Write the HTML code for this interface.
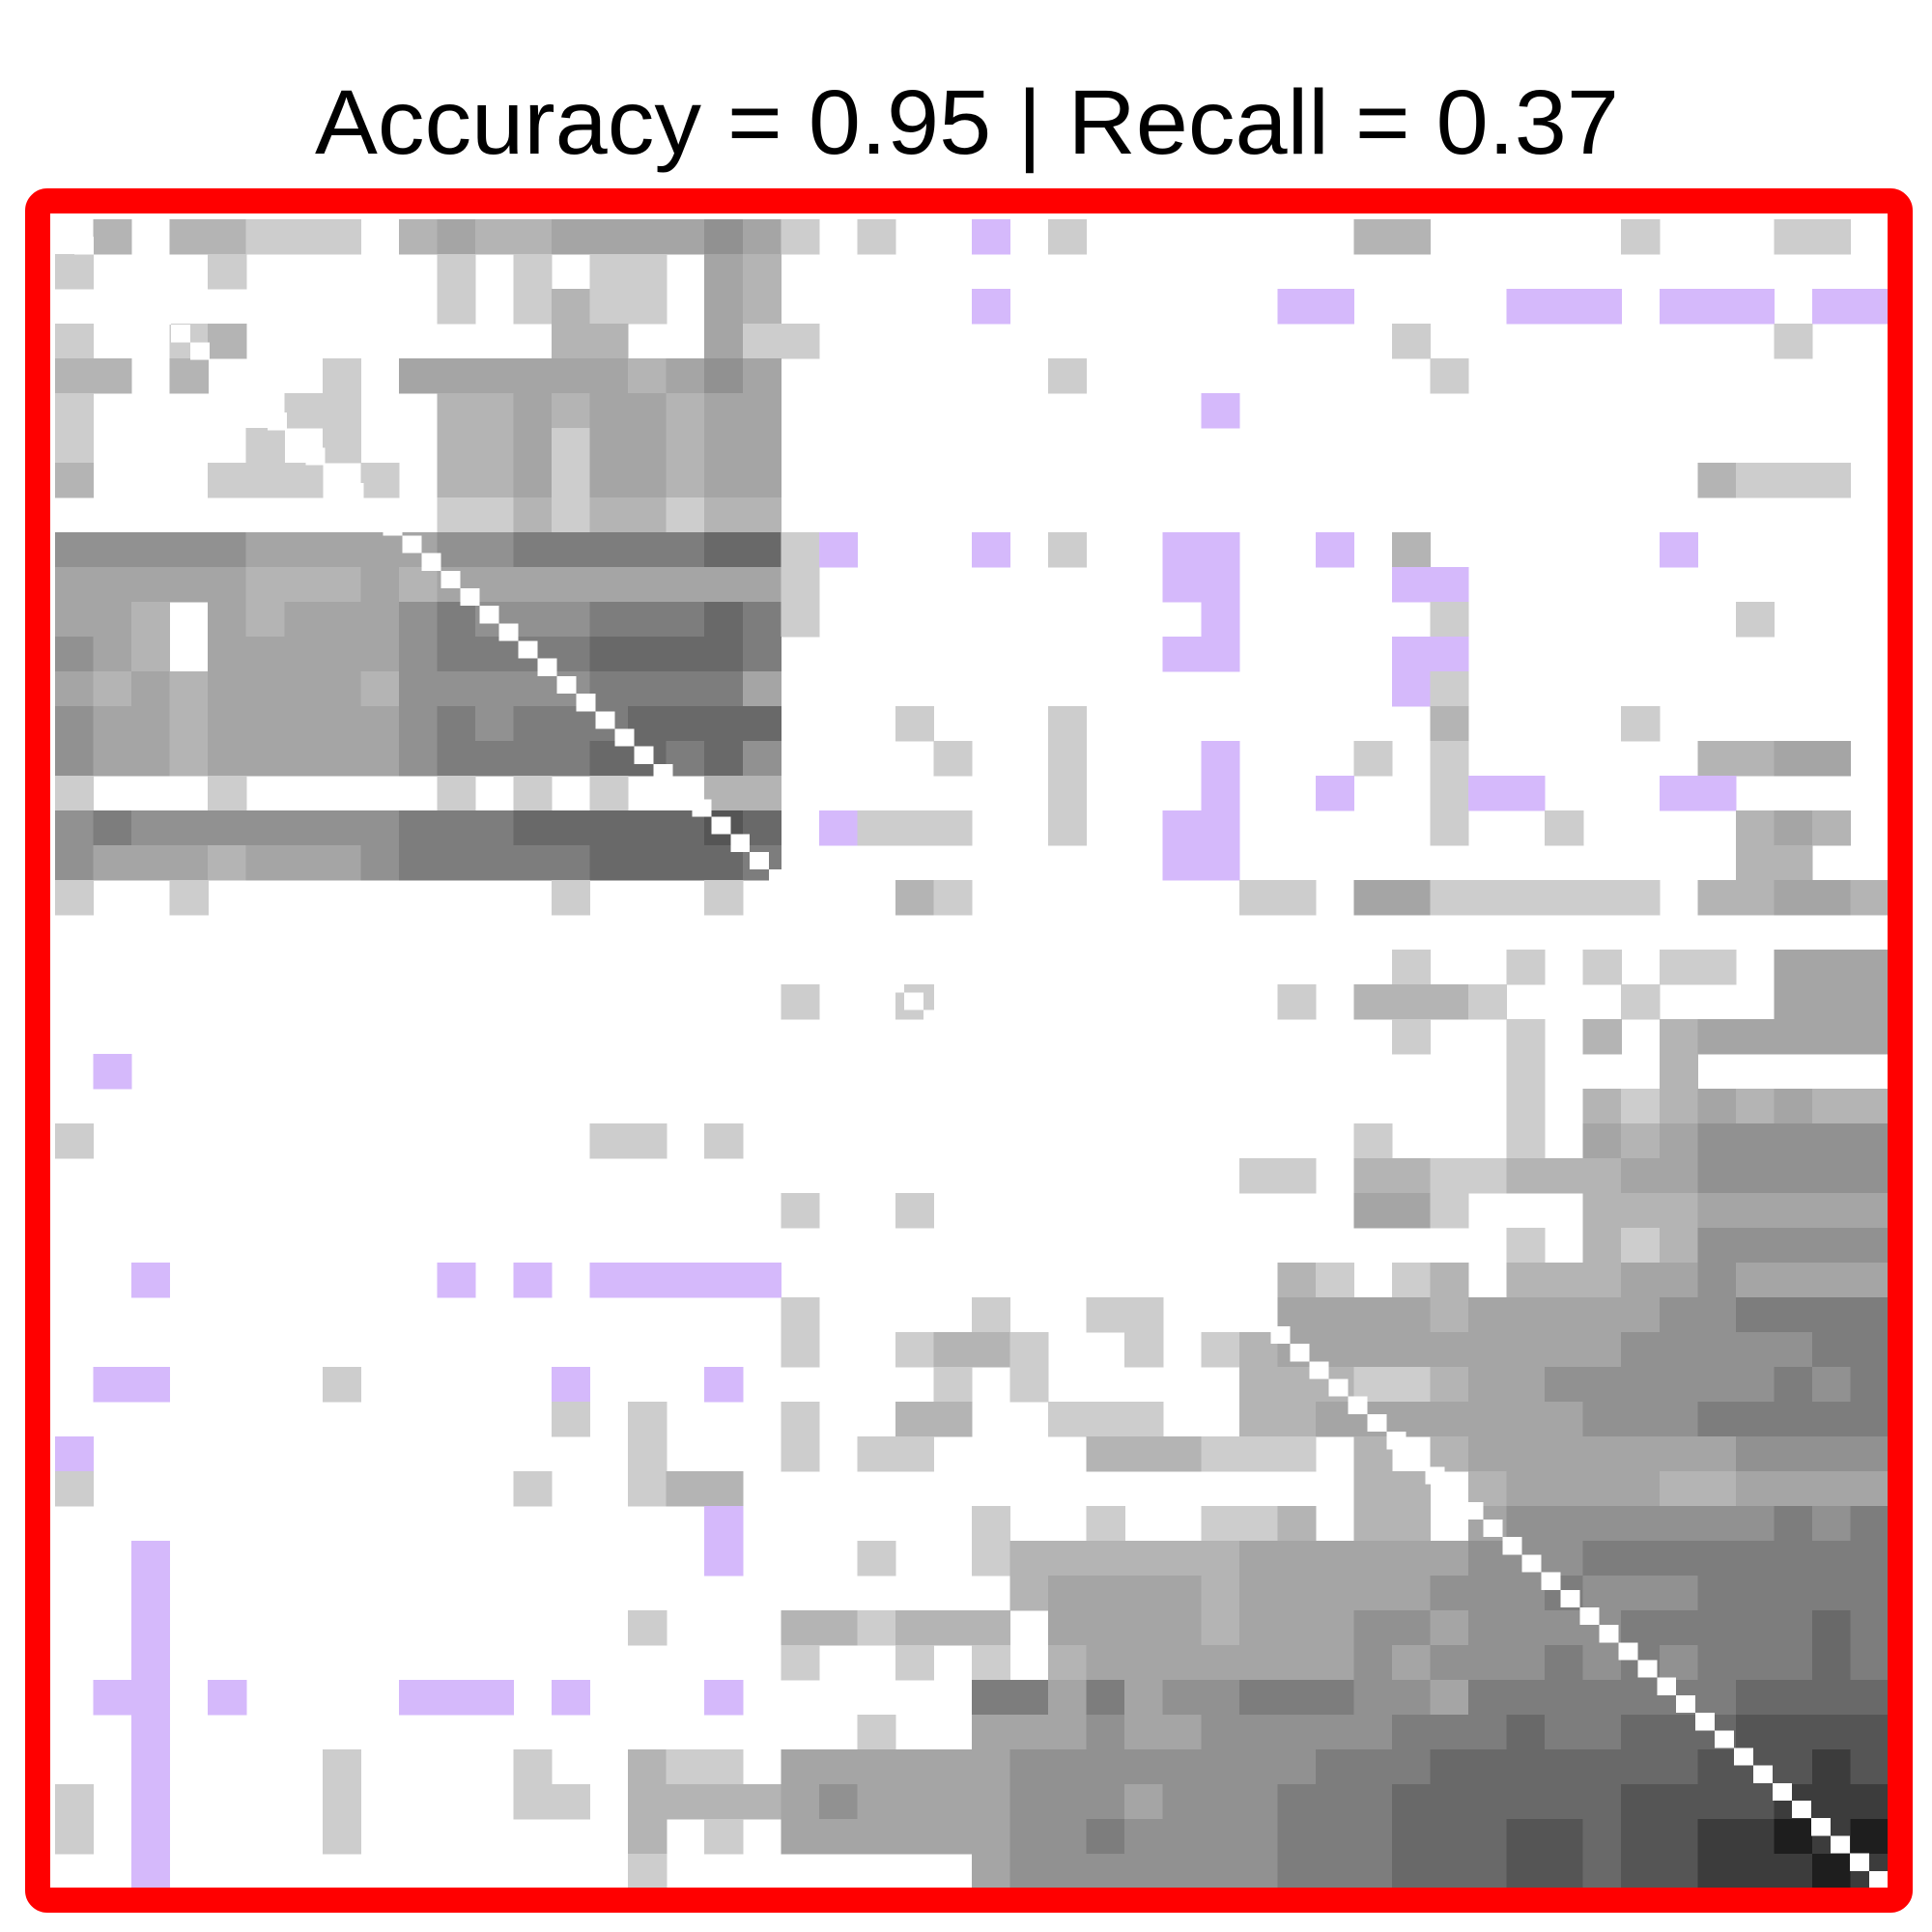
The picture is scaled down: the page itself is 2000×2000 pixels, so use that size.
<!DOCTYPE html>
<html>
<head>
<meta charset="utf-8">
<style>
  html, body { margin: 0; padding: 0; background: #ffffff; }
  body { width: 2000px; height: 2000px; overflow: hidden; }
  svg { display: block; }
</style>
</head>
<body>
<svg id="chart" width="2000" height="2000" viewBox="0 0 2000 2000" xmlns="http://www.w3.org/2000/svg">
  <rect x="0" y="0" width="2000" height="2000" fill="#ffffff"/>
  <text x="1001" y="159" text-anchor="middle" font-family="Liberation Sans, Arial, sans-serif" font-size="95" textLength="1350" lengthAdjust="spacingAndGlyphs" fill="#000">Accuracy = 0.95 | Recall = 0.37</text>
  <defs>
    <clipPath id="plotClip"><rect x="52" y="221" width="1902" height="1733"/></clipPath>
  </defs>
  <g id="cells" clip-path="url(#plotClip)" shape-rendering="crispEdges"></g>
  <rect x="39" y="208" width="1928" height="1759" rx="10" ry="10" fill="none" stroke="#ff0000" stroke-width="26"/>
</svg>
<script>
// Coarse matrix (48x48, each cell = 2x2 original cells). '.' empty, 1-9 grey darkness, 'p' purple.
const B = "........";
const heatRows = [
  ".2.22111"+".2322333"+"3431.1.."+"p.1....."+"..22...."+".1...11.",
  "1...1..."+"..1.1.11"+".32....."+B+B+B,
  B+"..1.1211"+".32....."+"p......."+"pp....pp"+"p.ppp.pp",
  "1..12..."+".....22."+".311...."+B+"...1...."+".....1..",
  "22.2...1"+".3333332"+"343....."+"..1....."+"....1..."+B,
  "1.....11"+"..223233"+"233....."+"......p."+B+B,
  "1....1.1"+"..223133"+"233....."+B+B+B,
  "2...111."+"1.223133"+"233....."+B+B+"...2111.",
  B+"..112122"+"122....."+B+B+B,
  "44444333"+"33445555"+"5661p..."+"p.1..pp."+".p.2...."+"..p.....",
  "33333222"+"32333333"+"3331...."+".....pp."+"...pp..."+B,
  "332.3233"+"34544455"+"5651...."+"......p."+"....1..."+"....1...",
  "432.3333"+"34555566"+"665....."+".....pp."+"...pp..."+B,
  "32323333"+"24444455"+"553....."+B+"...p1..."+B,
  "43323333"+"34545556"+"666...1."+"..1....."+"....2..."+".1......",
  "43323333"+"34555566"+"564....1"+"..1...p."+"..1.1..."+"...2233.",
  "1...1..."+"..1.1.1."+".22....."+"..1...p."+".p..1pp."+"..pp....",
  "45444444"+"45556666"+"676.p111"+"..1..pp."+"....1..1"+"....232.",
  "43332333"+"45555566"+"665....."+".....pp."+B+"....22..",
  "1..1...."+".....1.."+".1....21"+".......1"+"1.331111"+"11.22332",
  B+B+B+B+B+B,
  B+B+B+B+"...1..1."+"1.11.333",
  B+B+"...1..1."+B+"1.2221.."+".1...333",
  B+B+B+B+"...1..1."+"2.233333",
  ".p......"+B+B+B+"......1."+"..2.....",
  B+B+B+B+"......1."+"21232322",
  "1......."+"......11"+".1......"+B+"..1...1."+"32344444",
  B+B+B+".......1"+"1.221122"+"23344444",
  B+B+"...1..1."+B+"..331..."+"22233333",
  B+B+B+B+"......1."+"21244444",
  "..p....."+"..p.p.pp"+"ppp....."+B+"21.12.22"+"23343333",
  B+B+"...1...."+"1..11..."+"33332333"+"33445555",
  B+B+"...1..12"+"21..1.12"+"33333333"+"34444455",
  ".pp....1"+".....p.."+".p.....1"+".1.....2"+"22112334"+"44444545",
  B+".....1.1"+"...1..22"+"..111..2"+"23333333"+"44455555",
  "p......."+".......1"+"...1.11."+"...22211"+"1.2.2333"+"33334444",
  "1......."+"....1..1"+"22......"+B+"..22.233"+"33223333",
  B+B+".p......"+"1..1..11"+"2.22.344"+"44444545",
  "..p....."+B+".p...1.."+"12222223"+"33333444"+"55555555",
  "..p....."+B+B+".2333323"+"33334445"+"44455555",
  "..p....."+".......1"+"...22122"+"2.333323"+"33443444"+"45555565",
  "..p....."+B+"...1..1."+"1.233333"+"33434445"+"45455565",
  ".pp.p..."+".ppp.p.."+".p......"+"55353445"+"55443555"+"55556666",
  "..p....."+B+".....1.."+"33343344"+"44455565"+"56667777",
  "..p....1"+"....1..2"+"11.33333"+"34444444"+"45556666"+"66677787",
  "1.p....1"+"....11.2"+"22234333"+"34443444"+"55566666"+"67777888",
  "1.p....1"+".......2"+".1.33333"+"34454444"+"55566677"+"67788989",
  "..p....."+".......1"+B+"34444444"+"55566677"+"67788898"
];
const greyLevels = [255, 205, 180, 165, 145, 125, 105, 85, 60, 30];
const purpleColor = "#d5b9fb";
const fineN = 95;

(function draw() {
  const svgNS = "http://www.w3.org/2000/svg";
  const g = document.getElementById("cells");
  const x0 = 57, y0 = 227, W = 1898, H = 1728;
  const coarseN = heatRows.length;
  const xScale = c => x0 + c * W / coarseN;
  const yScale = r => y0 + r * H / coarseN;
  const cw = W / coarseN, ch = H / coarseN;
  for (let r = 0; r < coarseN; r++) {
    const row = heatRows[r];
    for (let c = 0; c < Math.min(row.length, coarseN); c++) {
      const v0 = row[c];
      if (v0 === "." || v0 === " ") continue;
      let fill;
      if (v0 === "p") fill = purpleColor;
      else {
        const v = greyLevels[parseInt(v0, 10)];
        if (v === undefined) continue;
        fill = "rgb(" + v + "," + v + "," + v + ")";
      }
      const rect = document.createElementNS(svgNS, "rect");
      rect.setAttribute("x", xScale(c).toFixed(2));
      rect.setAttribute("y", yScale(r).toFixed(2));
      rect.setAttribute("width", (cw + 0.6).toFixed(2));
      rect.setAttribute("height", (ch + 0.6).toFixed(2));
      rect.setAttribute("fill", fill);
      
      
      g.appendChild(rect);
    }
  }
  const fw = W / fineN, fh = H / fineN;
  for (let i = 0; i < fineN; i++) {
    const d = document.createElementNS(svgNS, "rect");
    d.setAttribute("x", (x0 + i * fw).toFixed(2));
    d.setAttribute("y", (y0 + i * fh).toFixed(2));
    d.setAttribute("width", fw.toFixed(2));
    d.setAttribute("height", fh.toFixed(2));
    d.setAttribute("fill", "#ffffff");
    
    
    g.appendChild(d);
  }
})();
</script>
</body>
</html>
